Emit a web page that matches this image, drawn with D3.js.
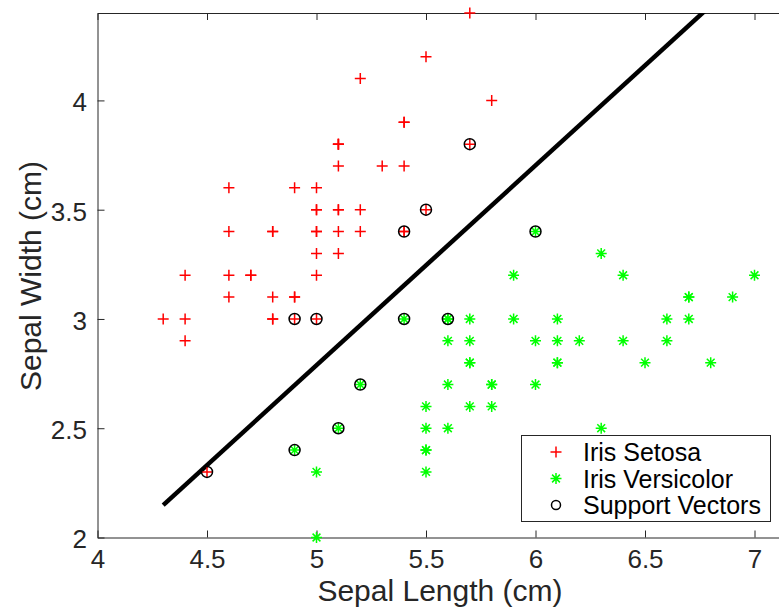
<!DOCTYPE html>
<html>
<head>
<meta charset="utf-8">
<script src="https://cdnjs.cloudflare.com/ajax/libs/d3/7.8.5/d3.min.js"></script>
<style>
  body { margin: 0; background: #fff; }
  svg { display: block; font-family: "Liberation Sans", Arial, sans-serif; }
</style>
</head>
<body>
<script>
// sepal length / width, iris setosa
var setosaX = [5.1,4.9,4.7,4.6,5.0,5.4,4.6,5.0,4.4,4.9,5.4,4.8,4.8,4.3,5.8,5.7,5.4,5.1,5.7,5.1,5.4,5.1,4.6,5.1,4.8,5.0,5.0,5.2,5.2,4.7,4.8,5.4,5.2,5.5,4.9,5.0,5.5,4.9,4.4,5.1,5.0,4.5,4.4,5.0,5.1,4.8,5.1,4.6,5.3,5.0];
var setosaY = [3.5,3.0,3.2,3.1,3.6,3.9,3.4,3.4,2.9,3.1,3.7,3.4,3.0,3.0,4.0,4.4,3.9,3.5,3.8,3.8,3.4,3.7,3.6,3.3,3.4,3.0,3.4,3.5,3.4,3.2,3.1,3.4,4.1,4.2,3.1,3.2,3.5,3.6,3.0,3.4,3.5,2.3,3.2,3.5,3.8,3.0,3.8,3.2,3.7,3.3];
// iris versicolor
var versiX = [7.0,6.4,6.9,5.5,6.5,5.7,6.3,4.9,6.6,5.2,5.0,5.9,6.0,6.1,5.6,6.7,5.6,5.8,6.2,5.6,5.9,6.1,6.3,6.1,6.4,6.6,6.8,6.7,6.0,5.7,5.5,5.5,5.8,6.0,5.4,6.0,6.7,6.3,5.6,5.5,5.5,6.1,5.8,5.0,5.6,5.7,5.7,6.2,5.1,5.7];
var versiY = [3.2,3.2,3.1,2.3,2.8,2.8,3.3,2.4,2.9,2.7,2.0,3.0,2.2,2.9,2.9,3.1,3.0,2.7,2.2,2.5,3.2,2.8,2.5,2.8,2.9,3.0,2.8,3.0,2.9,2.6,2.4,2.4,2.7,2.7,3.0,3.4,3.1,2.3,3.0,2.5,2.6,3.0,2.6,2.3,2.7,3.0,2.9,2.9,2.5,2.8];
// support vectors
var svX = [5.7,5.4,5.5,4.9,5.0,4.5,6.0,5.4,5.6,5.2,5.1,4.9];
var svY = [3.8,3.4,3.5,3.0,3.0,2.3,3.4,3.0,3.0,2.7,2.5,2.4];
// decision boundary end points
var lineX = [4.3, 7.0];
var lineY = [2.148, 4.617];

var xTicks = [4, 4.5, 5, 5.5, 6, 6.5, 7];
var yTicks = [2, 2.5, 3, 3.5, 4];
var legendLabels = ["Iris Setosa", "Iris Versicolor", "Support Vectors"];

var W = 779, H = 610;
var m = {left: 97.5, top: 13, right: 0, bottom: 72.5};
var pw = 219 * 3.12;
var ph = H - m.top - m.bottom;

var x = d3.scaleLinear().domain([4, 7.12]).range([m.left, m.left + pw]);
var y = d3.scaleLinear().domain([2, 4.4]).range([m.top + ph, m.top]);

var svg = d3.select("body").append("svg")
    .attr("width", W)
    .attr("height", H);

svg.append("defs").append("clipPath").attr("id", "clip")
  .append("rect")
    .attr("x", m.left).attr("y", m.top)
    .attr("width", pw).attr("height", ph);

var axisColor = "#262626";

// axes
var xAxis = svg.append("g")
    .attr("transform", "translate(0," + (m.top + ph) + ")")
    .call(d3.axisBottom(x).tickValues(xTicks).tickFormat(String).tickSizeInner(-7).tickSizeOuter(0).tickPadding(12.5));
var xTop = svg.append("g")
    .attr("transform", "translate(0," + m.top + ")")
    .call(d3.axisTop(x).tickValues(xTicks).tickSizeInner(-7).tickSizeOuter(0).tickFormat(""));
var yAxis = svg.append("g")
    .attr("transform", "translate(" + m.left + ",0)")
    .call(d3.axisLeft(y).tickValues(yTicks).tickFormat(String).tickSizeInner(-7).tickSizeOuter(0).tickPadding(10.5));

[xAxis, xTop, yAxis].forEach(function (g) {
  g.select(".domain").attr("stroke", axisColor).attr("stroke-width", 1);
  g.selectAll(".tick line").attr("stroke", axisColor).attr("stroke-width", 1);
  g.selectAll(".tick text").attr("fill", axisColor).style("font-size", "26px");
});
xAxis.selectAll(".tick text").attr("dy", "0.71em");
yAxis.selectAll(".tick text").attr("dy", "0.4em");

// axis labels
svg.append("text")
    .attr("x", 440)
    .attr("y", 601)
    .attr("text-anchor", "middle")
    .attr("fill", axisColor)
    .style("font-size", "30px")
    .text("Sepal Length (cm)");
svg.append("text")
    .attr("transform", "translate(41,276) rotate(-90)")
    .attr("text-anchor", "middle")
    .attr("fill", axisColor)
    .style("font-size", "30px")
    .text("Sepal Width (cm)");

// decision line
svg.append("path")
    .datum(d3.zip(lineX, lineY))
    .attr("clip-path", "url(#clip)")
    .attr("fill", "none")
    .attr("stroke", "#000")
    .attr("stroke-width", 4.5)
    .attr("d", d3.line().x(function (d) { return x(d[0]); }).y(function (d) { return y(d[1]); }));

var plus = "M-5.5,0H5.5M0,-5.5V5.5";
var star = "M-5.5,0H5.5M0,-5.5V5.5M-3.9,-3.9L3.9,3.9M-3.9,3.9L3.9,-3.9";

svg.append("g").selectAll("path")
    .data(d3.zip(setosaX, setosaY))
  .enter().append("path")
    .attr("transform", function (d) { return "translate(" + x(d[0]) + "," + y(d[1]) + ")"; })
    .attr("d", plus)
    .attr("stroke", "#ff0000")
    .attr("stroke-width", 1.5);

svg.append("g").selectAll("path")
    .data(d3.zip(versiX, versiY))
  .enter().append("path")
    .attr("transform", function (d) { return "translate(" + x(d[0]) + "," + y(d[1]) + ")"; })
    .attr("d", star)
    .attr("stroke", "#00ff00")
    .attr("stroke-width", 1.5);

svg.append("g").selectAll("circle")
    .data(d3.zip(svX, svY))
  .enter().append("circle")
    .attr("cx", function (d) { return x(d[0]); })
    .attr("cy", function (d) { return y(d[1]); })
    .attr("r", 5.5)
    .attr("fill", "none")
    .attr("stroke", "#000")
    .attr("stroke-width", 1.5);

// legend
var lg = svg.append("g").attr("transform", "translate(521.5,435.5)");
lg.append("rect")
    .attr("width", 249).attr("height", 86)
    .attr("fill", "#fff")
    .attr("stroke", axisColor)
    .attr("stroke-width", 1);
var rows = lg.selectAll("g.row")
    .data(legendLabels)
  .enter().append("g")
    .attr("class", "row")
    .attr("transform", function (d, i) { return "translate(34.5," + (16.5 + i * 26.5) + ")"; });
rows.each(function (d, i) {
  var g = d3.select(this);
  if (i === 0) g.append("path").attr("d", plus).attr("stroke", "#ff0000").attr("stroke-width", 1.5);
  if (i === 1) g.append("path").attr("d", star).attr("stroke", "#00ff00").attr("stroke-width", 1.5);
  if (i === 2) g.append("circle").attr("r", 4.5).attr("fill", "none").attr("stroke", "#000").attr("stroke-width", 1.5);
});
rows.append("text")
    .attr("x", 27)
    .attr("dy", "0.36em")
    .attr("fill", "#000")
    .style("font-size", "25px")
    .text(function (d) { return d; });
</script>
</body>
</html>
